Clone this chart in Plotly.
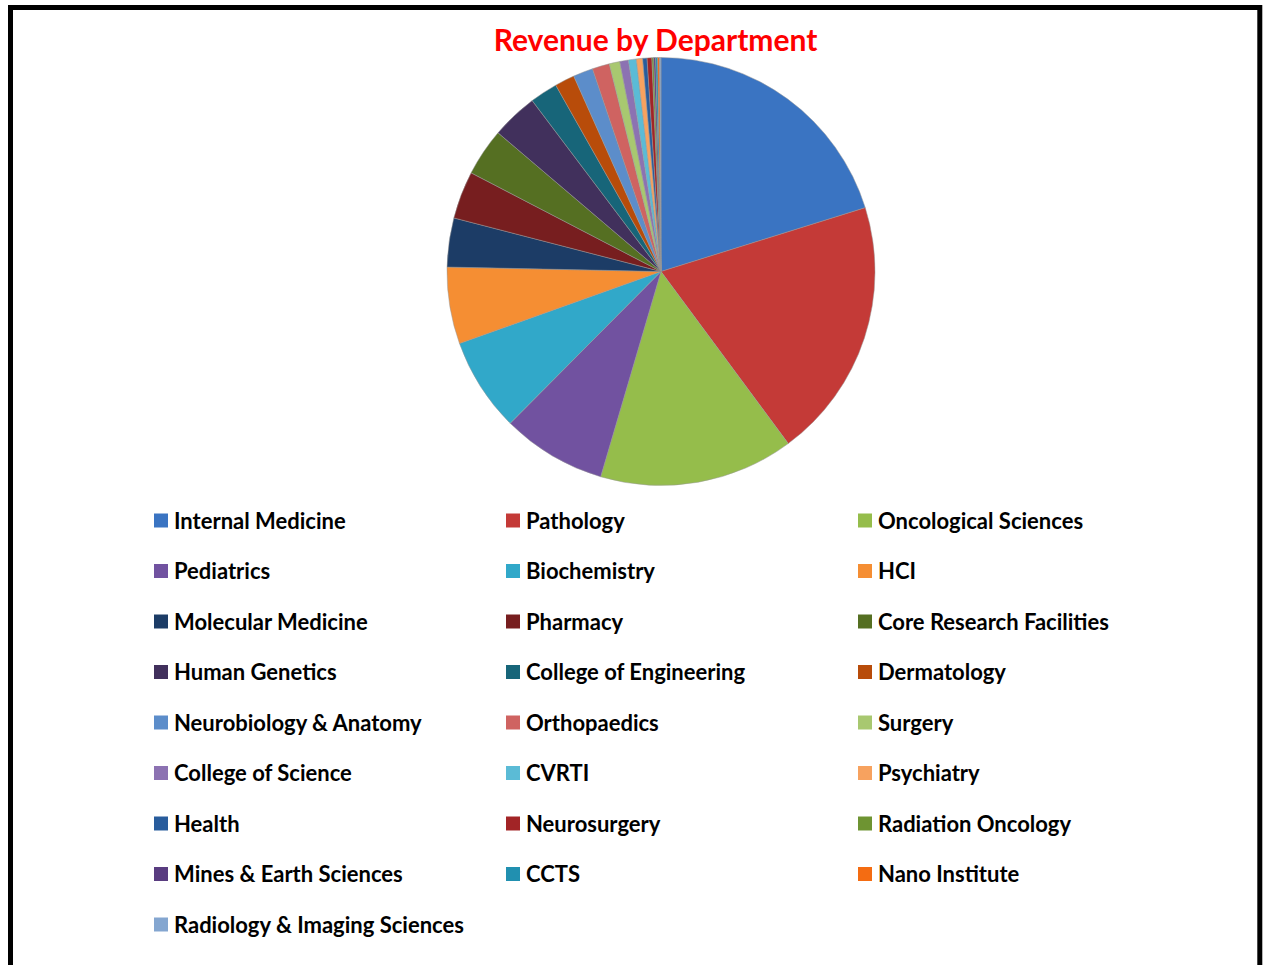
import plotly.graph_objects as go

# Revenue share by department (percent of total)
departments = [
    "Internal Medicine", "Pathology", "Oncological Sciences",
    "Pediatrics", "Biochemistry", "HCI",
    "Molecular Medicine", "Pharmacy", "Core Research Facilities",
    "Human Genetics", "College of Engineering", "Dermatology",
    "Neurobiology & Anatomy", "Orthopaedics", "Surgery",
    "College of Science", "CVRTI", "Psychiatry",
    "Health", "Neurosurgery", "Radiation Oncology",
    "Mines & Earth Sciences", "CCTS", "Nano Institute",
    "Radiology & Imaging Sciences",
]
revenue_share = [
    20.2, 19.7, 14.7,
    7.9, 7.1, 5.8,
    3.7, 3.6, 3.6,
    3.5, 2.1, 1.5,
    1.5, 1.3, 0.8,
    0.65, 0.6, 0.47,
    0.33, 0.36, 0.14,
    0.14, 0.15, 0.15,
    0.1,
]
slice_colors = [
    "#3A74C2", "#C43A37", "#95BD4B",
    "#7152A0", "#31A8C9", "#F58E33",
    "#1C3C66", "#771E1F", "#556F22",
    "#41305C", "#176579", "#B84C0A",
    "#5C8DCA", "#CF6361", "#A8C870",
    "#8C72B2", "#5BBBD6", "#F7A25F",
    "#285C9C", "#A22426", "#6E9432",
    "#593C80", "#2190B0", "#F46C12",
    "#84A6D0",
]

W, H = 1264, 965
cx, cy, r = 661, 271.5, 214   # pie centre / radius in px

fig = go.Figure(go.Pie(
    labels=departments,
    values=revenue_share,
    sort=False,
    direction="clockwise",
    rotation=0,
    textinfo="none",
    hoverinfo="label+percent",
    marker=dict(colors=slice_colors,
                line=dict(color="rgba(150,150,150,0.7)", width=0.7)),
    domain=dict(x=[(cx - r) / W, (cx + r) / W],
                y=[1 - (cy + r) / H, 1 - (cy - r) / H]),
    showlegend=False,
))

# Three-column legend below the pie
shapes = []
annotations = []
col_x0, col_step = 154, 352
row_y0, row_step = 520.5, 50.5
box = 14
for i, (name, col) in enumerate(zip(departments, slice_colors)):
    c, rw = i % 3, i // 3
    mx = col_x0 + c * col_step
    my = row_y0 + rw * row_step
    shapes.append(dict(
        type="rect", xref="paper", yref="paper",
        x0=mx / W, x1=(mx + box) / W,
        y0=1 - (my + box / 2) / H, y1=1 - (my - box / 2) / H,
        fillcolor=col, line=dict(width=0),
    ))
    annotations.append(dict(
        text=name, xref="paper", yref="paper",
        x=(mx + 18) / W, y=1 - (my - 0.5) / H,
        xanchor="left", yanchor="middle", showarrow=False,
        font=dict(family="Lato", size=22, color="#000000", weight="bold"),
    ))

# Outer frame
shapes.append(dict(
    type="rect", xref="paper", yref="paper",
    x0=10.5 / W, x1=1259.8 / W, y0=-20 / H, y1=1 - 7.5 / H,
    line=dict(color="#000000", width=5), fillcolor="rgba(0,0,0,0)",
))

fig.update_layout(
    width=W, height=H,
    margin=dict(l=0, r=0, t=0, b=0),
    paper_bgcolor="#FFFFFF",
    plot_bgcolor="#FFFFFF",
    title=dict(
        text="Revenue by Department",
        x=655.5 / W, y=1 - 40 / H, xanchor="center", yanchor="middle",
        font=dict(family="Lato", size=30, color="#FF0000", weight="bold"),
    ),
    shapes=shapes,
    annotations=annotations,
)

fig.write_html("out.html")
